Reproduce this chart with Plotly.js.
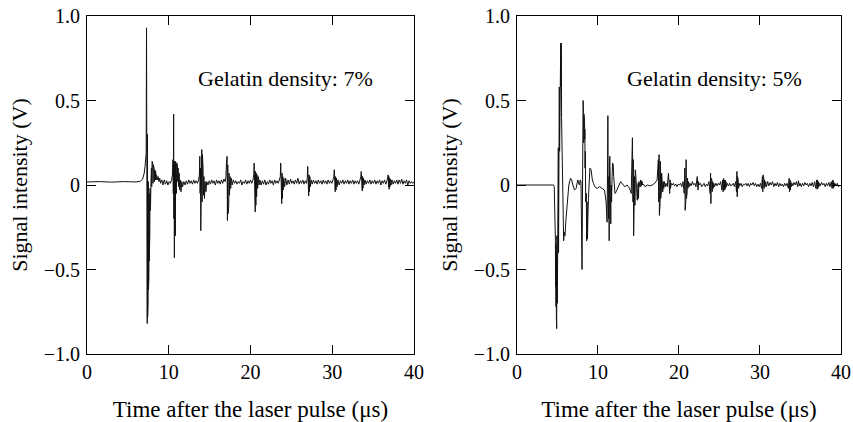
<!DOCTYPE html>
<html>
<head>
<meta charset="utf-8">
<script src="https://cdn.plot.ly/plotly-3.0.1.min.js"></script>
<style>html,body{margin:0;padding:0;background:#fff;}#chart{width:853px;height:422px;}</style>
</head>
<body>
<div id="chart"></div>
<script>
// ---- Data ----
// Gelatin density 7 %
const t7 = [0,1.5,3,4.5,6,6.5,6.8,7.0,7.1,7.18,7.24,7.28,7.31,7.34,7.37,7.40,7.42,7.45,7.47,7.50,7.52,7.55,7.57,7.60,7.62,7.65,7.68,7.72,7.76,7.82,7.88,7.92,7.96,8.0,8.04,8.08,8.12,8.16,8.2,8.25,8.3,8.35,8.4,8.45,8.5,8.6,8.7,8.8,8.9,9.0,9.15,9.3,9.45,9.6,9.75,9.9,10.05,10.2,10.35,10.45,10.52,10.56,10.6,10.63,10.66,10.69,10.72,10.75,10.78,10.81,10.84,10.87,10.9,10.94,10.98,11.02,11.06,11.1,11.15,11.2,11.27,11.34,11.42,11.5,11.6,11.7,11.85,12.0,12.15,12.3,12.45,12.6,12.75,12.9,13.05,13.2,13.35,13.5,13.65,13.75,13.8,13.84,13.88,13.92,13.96,14.0,14.04,14.08,14.12,14.16,14.2,14.25,14.3,14.37,14.45,14.55,14.65,14.8,14.95,15.1,15.25,15.4,15.55,15.7,15.85,16.0,16.15,16.3,16.45,16.6,16.75,16.9,17.0,17.06,17.1,17.14,17.18,17.22,17.26,17.3,17.34,17.38,17.43,17.5,17.58,17.66,17.76,17.9,18.05,18.2,18.35,18.5,18.65,18.8,18.95,19.1,19.25,19.4,19.55,19.7,19.85,20.0,20.15,20.3,20.4,20.45,20.5,20.54,20.58,20.62,20.66,20.7,20.75,20.8,20.88,20.96,21.05,21.15,21.3,21.45,21.6,21.75,21.9,22.05,22.2,22.35,22.5,22.65,22.8,22.95,23.1,23.25,23.4,23.55,23.65,23.7,23.74,23.78,23.82,23.86,23.9,23.95,24.0,24.08,24.18,24.3,24.45,24.6,24.75,24.9,25.05,25.2,25.35,25.5,25.65,25.8,25.95,26.1,26.25,26.4,26.55,26.7,26.85,26.95,27.0,27.04,27.08,27.12,27.16,27.2,27.26,27.33,27.42,27.55,27.7,27.85,28.0,28.15,28.3,28.45,28.6,28.75,28.9,29.05,29.2,29.35,29.5,29.65,29.8,29.95,30.1,30.2,30.25,30.29,30.33,30.37,30.41,30.46,30.52,30.6,30.7,30.85,31.0,31.15,31.3,31.45,31.6,31.75,31.9,32.05,32.2,32.35,32.5,32.65,32.8,32.95,33.1,33.25,33.4,33.5,33.55,33.59,33.63,33.67,33.71,33.76,33.82,33.9,34.0,34.15,34.3,34.45,34.6,34.75,34.9,35.05,35.2,35.35,35.5,35.65,35.8,35.95,36.1,36.25,36.4,36.55,36.7,36.8,36.85,36.89,36.93,36.97,37.01,37.06,37.12,37.2,37.3,37.45,37.6,37.75,37.9,38.05,38.2,38.35,38.5,38.65,38.8,38.95,39.1,39.25,39.4,39.55,39.7,39.85,40];
const v7 = [0.018,0.02,0.017,0.02,0.018,0.022,0.035,0.07,0.11,0.16,0.19,0.93,-0.1,0.4,-0.82,0.3,-0.78,0.1,-0.7,0.02,-0.62,0.0,-0.55,-0.05,-0.45,-0.05,-0.3,-0.02,-0.15,0.0,0.1,-0.01,0.14,0.0,0.13,0.01,0.12,0.02,0.1,0.02,0.09,0.03,0.08,0.03,0.06,0.03,0.05,0.02,0.04,0.01,0.03,0.0,0.03,0.005,0.025,0.0,0.02,0.01,0.03,0.06,0.15,-0.05,0.42,-0.2,0.12,-0.43,0.14,-0.4,0.13,-0.3,0.14,-0.15,0.12,-0.05,0.13,0.0,0.12,0.02,0.1,-0.01,0.07,-0.03,0.03,-0.04,0.02,-0.01,0.02,0.0,0.025,0.005,0.03,0.01,0.025,0.005,0.03,0.01,0.025,0.01,0.03,0.06,0.17,-0.05,0.1,-0.27,0.05,-0.2,0.21,-0.1,0.18,-0.05,0.1,-0.06,0.05,-0.08,0.02,-0.04,0.02,0.0,0.025,0.005,0.03,0.01,0.025,0.0,0.03,0.01,0.025,0.005,0.03,0.01,0.035,0.02,0.05,0.13,-0.08,0.17,-0.21,0.12,-0.17,0.1,-0.12,0.07,-0.06,0.05,-0.02,0.04,0.0,0.03,0.01,0.025,0.005,0.02,0.01,0.03,0.0,0.02,0.01,0.03,0.005,0.025,0.01,0.03,0.01,0.03,0.06,0.13,-0.05,0.1,-0.16,0.08,-0.12,0.07,-0.07,0.06,-0.02,0.05,0.0,0.03,0.0,0.025,0.005,0.03,0.0,0.02,0.005,0.03,0.01,0.025,0.0,0.03,0.01,0.025,0.01,0.03,0.05,0.13,-0.04,0.1,-0.11,0.07,-0.08,0.05,-0.03,0.04,-0.01,0.04,0.0,0.03,0.005,0.035,0.01,0.025,0.005,0.03,0.01,0.04,0.005,0.025,0.01,0.03,0.005,0.025,0.01,0.04,0.11,-0.02,0.08,-0.065,0.06,-0.04,0.05,-0.01,0.03,0.005,0.03,0.01,0.025,0.005,0.03,0.01,0.025,0.005,0.03,0.01,0.025,0.005,0.03,0.01,0.025,0.01,0.03,0.05,0.09,-0.02,0.06,-0.04,0.05,-0.03,0.04,-0.01,0.03,0.0,0.025,0.01,0.03,0.005,0.025,0.01,0.03,0.005,0.025,0.01,0.03,0.005,0.025,0.01,0.025,0.005,0.03,0.05,0.08,-0.02,0.06,-0.035,0.05,-0.02,0.04,0.0,0.03,0.005,0.025,0.01,0.03,0.005,0.025,0.01,0.03,0.005,0.025,0.01,0.03,0.0,0.025,0.01,0.03,0.005,0.025,0.04,0.06,-0.01,0.05,-0.025,0.04,-0.01,0.035,0.0,0.03,0.005,0.025,0.01,0.03,0.005,0.03,0.01,0.035,0.005,0.025,0.01,0.03,0.0,0.025,0.01,0.02,0.01,0.02];

// Gelatin density 5 %
const t5 = [0,2,4,4.5,4.6,4.68,4.74,4.77,4.8,4.82,4.84,4.86,4.88,4.9,4.92,4.94,4.96,4.98,5.0,5.02,5.04,5.07,5.1,5.13,5.16,5.19,5.22,5.26,5.3,5.32,5.34,5.36,5.38,5.4,5.42,5.44,5.46,5.48,5.5,5.54,5.6,5.68,5.76,5.84,5.92,6.05,6.2,6.4,6.6,6.75,6.9,7.1,7.3,7.5,7.7,7.8,7.9,7.98,8.03,8.08,8.12,8.16,8.2,8.22,8.24,8.26,8.28,8.3,8.32,8.34,8.36,8.38,8.4,8.44,8.48,8.52,8.56,8.6,8.65,8.7,8.75,8.82,8.9,9.0,9.15,9.3,9.45,9.6,9.9,10.2,10.5,10.8,11.0,11.12,11.18,11.22,11.26,11.3,11.34,11.38,11.42,11.46,11.5,11.54,11.58,11.62,11.68,11.74,11.8,11.88,11.94,12.0,12.1,12.25,12.4,12.6,12.8,13.0,13.3,13.6,13.9,14.1,14.25,14.32,14.36,14.4,14.44,14.48,14.52,14.56,14.6,14.68,14.76,14.85,14.95,15.0,15.05,15.15,15.25,15.3,15.35,15.4,15.45,15.5,15.6,15.8,16.1,16.4,16.7,17.0,17.3,17.45,17.5,17.54,17.58,17.62,17.66,17.7,17.74,17.78,17.82,17.86,17.9,17.95,18.0,18.06,18.12,18.2,18.3,18.4,18.55,18.7,18.85,18.9,18.95,19.05,19.15,19.3,19.45,19.6,19.75,19.9,20.05,20.2,20.35,20.5,20.65,20.72,20.76,20.8,20.84,20.88,20.92,20.96,21.0,21.05,21.1,21.18,21.26,21.35,21.5,21.65,21.8,21.95,22.1,22.25,22.35,22.42,22.5,22.65,22.8,22.95,23.1,23.25,23.4,23.55,23.7,23.85,23.9,23.94,23.98,24.02,24.06,24.1,24.16,24.22,24.3,24.4,24.55,24.7,24.85,25.0,25.15,25.3,25.4,25.45,25.5,25.55,25.6,25.65,25.7,25.75,25.8,25.85,25.95,26.1,26.25,26.4,26.55,26.7,26.85,27.0,27.1,27.15,27.19,27.23,27.27,27.31,27.36,27.42,27.5,27.65,27.8,27.95,28.1,28.25,28.4,28.55,28.7,28.85,29.0,29.15,29.3,29.45,29.6,29.75,29.9,30.05,30.2,30.3,30.35,30.39,30.43,30.47,30.51,30.56,30.62,30.7,30.8,30.95,31.1,31.25,31.4,31.55,31.7,31.85,32.0,32.15,32.3,32.45,32.6,32.75,32.9,33.05,33.2,33.35,33.5,33.6,33.65,33.7,33.75,33.8,33.86,33.94,34.05,34.2,34.35,34.5,34.65,34.75,34.85,34.95,35.1,35.25,35.4,35.55,35.7,35.85,36.0,36.15,36.3,36.45,36.6,36.75,36.9,37.0,37.05,37.1,37.15,37.2,37.27,37.35,37.45,37.6,37.75,37.9,38.05,38.2,38.35,38.5,38.65,38.8,38.9,39.0,39.05,39.1,39.15,39.25,39.4,39.55,39.7,39.85,40];
const v5 = [0.0,0.0,0.0,0.0,-0.01,-0.15,-0.33,-0.6,-0.35,-0.72,-0.4,-0.78,-0.35,-0.85,-0.3,-0.75,-0.35,-0.7,-0.25,-0.62,-0.3,0.0,0.22,-0.4,0.2,-0.3,0.58,0.2,0.6,0.84,0.55,0.84,0.6,0.84,0.58,0.84,0.62,0.8,0.4,0.3,0.0,-0.25,-0.33,-0.28,-0.3,-0.2,-0.1,0.0,0.04,0.03,0.0,-0.03,-0.02,0.03,0.0,0.03,0.02,-0.2,-0.5,-0.1,0.3,0.5,0.2,0.43,0.25,0.42,0.26,0.4,0.28,0.38,0.27,0.33,0.1,0.2,-0.1,-0.3,-0.05,-0.33,-0.1,-0.32,-0.2,-0.08,0.0,0.1,0.09,0.03,0.01,-0.01,-0.02,-0.01,-0.02,-0.03,-0.1,-0.22,0.1,0.41,-0.1,-0.2,0.05,-0.33,0.1,0.17,-0.15,0.12,-0.23,0.0,-0.1,0.05,0.13,0.12,0.05,-0.02,-0.05,-0.04,-0.02,0.0,0.02,0.01,-0.01,0.0,-0.02,-0.05,0.28,-0.1,0.15,-0.3,-0.05,-0.14,0.05,-0.12,0.09,0.05,-0.02,-0.09,0.01,-0.08,0.02,-0.01,0.03,-0.01,0.025,0.0,0.02,0.0,0.005,-0.01,0.0,-0.005,0.0,0.01,0.03,0.15,-0.1,0.18,-0.18,0.16,-0.12,0.14,-0.08,0.1,-0.05,0.07,-0.02,0.03,-0.04,0.02,-0.02,0.02,-0.01,0.01,-0.01,0.07,-0.05,0.03,-0.02,0.01,0.0,0.01,-0.005,0.005,-0.01,0.005,0.0,0.01,-0.01,0.02,-0.05,0.1,-0.15,0.08,-0.1,0.15,-0.08,0.06,-0.05,0.04,-0.02,0.02,-0.01,0.01,-0.005,0.02,0.0,0.01,-0.01,0.05,-0.03,0.02,0.0,0.01,-0.01,0.0,0.01,-0.01,0.005,-0.005,0.02,-0.05,0.07,-0.11,0.04,-0.07,0.03,-0.04,0.02,-0.02,0.01,-0.01,0.01,-0.005,0.01,0.0,0.02,-0.03,0.03,-0.04,0.04,-0.03,0.03,-0.03,0.03,-0.02,0.02,-0.01,0.01,-0.005,0.01,-0.005,0.0,0.01,-0.01,0.02,-0.04,0.08,-0.07,0.05,-0.05,0.03,-0.02,0.01,-0.005,0.01,-0.01,0.005,0.0,0.01,-0.005,0.01,-0.01,0.01,0.0,0.015,-0.005,0.01,-0.01,0.005,-0.01,0.01,-0.02,0.05,-0.04,0.06,-0.03,0.04,-0.02,0.03,-0.01,0.02,-0.01,0.02,-0.005,0.015,0.0,0.02,-0.01,0.01,-0.005,0.015,-0.01,0.01,-0.005,0.005,-0.01,0.01,-0.005,0.01,-0.02,0.04,-0.04,0.03,-0.03,0.02,-0.01,0.01,-0.005,0.015,0.0,0.02,-0.01,0.025,-0.005,0.01,-0.01,0.01,-0.005,0.015,0.0,0.01,-0.01,0.01,-0.005,0.015,-0.01,0.02,-0.02,0.03,-0.025,0.03,-0.02,0.02,-0.01,0.01,-0.005,0.015,0.0,0.01,-0.01,0.01,-0.005,0.015,-0.01,0.02,-0.02,0.03,-0.02,0.02,-0.01,0.01,-0.005,0.01,-0.01,0.0];

const xTicks = [0, 10, 20, 30, 40];
const yTicks = [1.0, 0.5, 0, -0.5, -1.0];
const yTickText = ["1.0", "0.5", "0", "\u22120.5", "\u22121.0"];
const labels = ["Gelatin density: 7%", "Gelatin density: 5%"];
const xTitle = "Time after the laser pulse (\u03bcs)";
const yTitle = "Signal intensity (V)";

// ---- Styling ----
const FONT = "Liberation Serif, Times New Roman, serif";
const lineStyle = {color: "#111", width: 1};

function xAxis(domain, anchor) {
  return {
    domain: domain, anchor: anchor, range: [0, 40],
    tickvals: xTicks, ticks: "inside", ticklen: 9, tickwidth: 1, tickcolor: "#000",
    mirror: "ticks", showline: true, linecolor: "#000", linewidth: 1,
    showgrid: false, zeroline: false, ticklabelstandoff: 0,
    tickfont: {family: FONT, size: 20, color: "#000"},
    title: {text: xTitle, font: {family: FONT, size: 23, color: "#000"}, standoff: 20}
  };
}
function yAxis(anchor) {
  return {
    domain: [0.1611, 0.9621], anchor: anchor, range: [-1, 1],
    tickvals: yTicks, ticktext: yTickText, ticks: "inside", ticklen: 9, tickwidth: 1, tickcolor: "#000",
    mirror: "ticks", showline: true, linecolor: "#000", linewidth: 1,
    showgrid: false, zeroline: false, ticklabelstandoff: 2,
    tickfont: {family: FONT, size: 20, color: "#000"},
    title: {text: yTitle, font: {family: FONT, size: 22, color: "#000"}, standoff: 10}
  };
}

const traces = [
  {x: t7, y: v7, type: "scatter", mode: "lines", line: lineStyle, xaxis: "x", yaxis: "y", hoverinfo: "skip"},
  {x: t5, y: v5, type: "scatter", mode: "lines", line: lineStyle, xaxis: "x2", yaxis: "y2", hoverinfo: "skip"}
];

const layout = {
  width: 853, height: 422,
  margin: {l: 0, r: 0, t: 0, b: 0},
  paper_bgcolor: "#fff", plot_bgcolor: "#fff",
  showlegend: false,
  xaxis: xAxis([0.1020, 0.4853], "y"),
  yaxis: yAxis("x"),
  xaxis2: xAxis([0.6061, 0.9859], "y2"),
  yaxis2: yAxis("x2"),
  annotations: [
    {xref: "x", yref: "y", x: 24.3, y: 0.63, text: labels[0], showarrow: false, xanchor: "center", yanchor: "middle",
     font: {family: FONT, size: 22, color: "#000"}},
    {xref: "x2", yref: "y2", x: 24.4, y: 0.63, text: labels[1], showarrow: false, xanchor: "center", yanchor: "middle",
     font: {family: FONT, size: 22, color: "#000"}}
  ]
};

Plotly.newPlot("chart", traces, layout, {staticPlot: true, displayModeBar: false});
</script>
</body>
</html>
